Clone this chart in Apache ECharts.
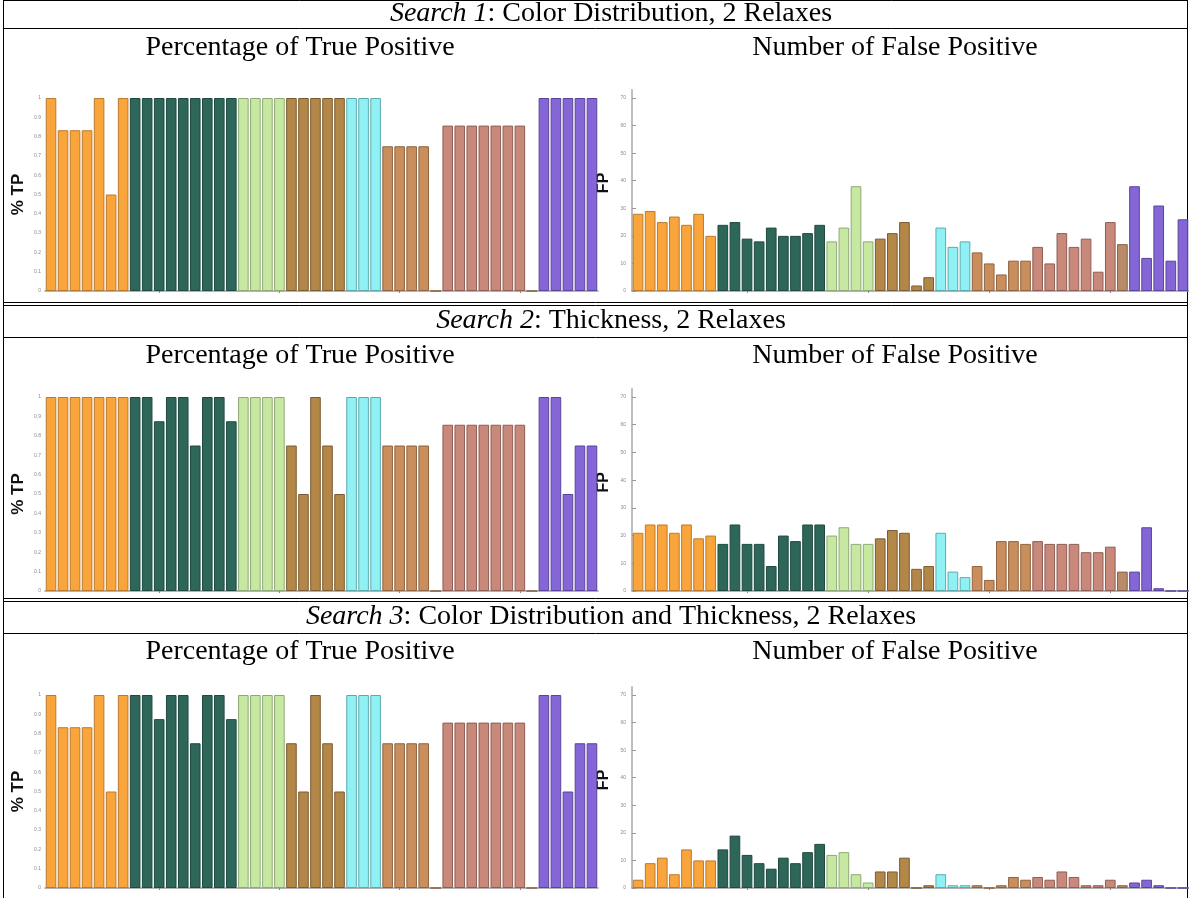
<!DOCTYPE html>
<html>
<head>
<meta charset="utf-8">
<title>Search results: true / false positives</title>
<script src="https://cdn.jsdelivr.net/npm/echarts@6/dist/echarts.min.js"></script>
<style>
  html, body { margin: 0; padding: 0; background: #fff; }
  #chart { width: 1189px; height: 898px; }
</style>
</head>
<body>
<div id="chart"></div>
<script>
// ---- data -------------------------------------------------------------
const CATEGORIES = ['1','2','3','4','5','6','7','8','9','10','11','12','13','14','15','16',
  '17','18','19','20','21','22','23','24','25','26','27','28','29','30','31','32','33','34',
  '35','36','37','38','39','40','41','42','43','44','45','46'];

// bars per colour group, left to right
const GROUP_SIZES = [7, 9, 4, 5, 3, 4, 1, 7, 1, 5];

const TP_TICKS = [0, 0.1, 0.2, 0.3, 0.4, 0.5, 0.6, 0.7, 0.8, 0.9, 1];
const FP_TICKS = [0, 10, 20, 30, 40, 50, 60, 70];

const SEARCH_TITLES = ['Search 1', 'Search 2', 'Search 3'];
const SEARCH_SUBTITLES = [': Color Distribution, 2 Relaxes', ': Thickness, 2 Relaxes',
  ': Color Distribution and Thickness, 2 Relaxes'];

// fraction of true positives per query
const TP_SEARCH1 = [1, 0.833, 0.833, 0.833, 1, 0.5, 1,
  1, 1, 1, 1, 1, 1, 1, 1, 1,
  1, 1, 1, 1,
  1, 1, 1, 1, 1,
  1, 1, 1,
  0.75, 0.75, 0.75, 0.75,
  0,
  0.857, 0.857, 0.857, 0.857, 0.857, 0.857, 0.857,
  0,
  1, 1, 1, 1, 1];
const TP_SEARCH2 = [1, 1, 1, 1, 1, 1, 1,
  1, 1, 0.875, 1, 1, 0.75, 1, 1, 0.875,
  1, 1, 1, 1,
  0.75, 0.5, 1, 0.75, 0.5,
  1, 1, 1,
  0.75, 0.75, 0.75, 0.75,
  0,
  0.857, 0.857, 0.857, 0.857, 0.857, 0.857, 0.857,
  0,
  1, 1, 0.5, 0.75, 0.75];
const TP_SEARCH3 = [1, 0.833, 0.833, 0.833, 1, 0.5, 1,
  1, 1, 0.875, 1, 1, 0.75, 1, 1, 0.875,
  1, 1, 1, 1,
  0.75, 0.5, 1, 0.75, 0.5,
  1, 1, 1,
  0.75, 0.75, 0.75, 0.75,
  0,
  0.857, 0.857, 0.857, 0.857, 0.857, 0.857, 0.857,
  0,
  1, 1, 0.5, 0.75, 0.75];

// number of false positives per query
const FP_SEARCH1 = [28, 29, 25, 27, 24, 28, 20,
  24, 25, 19, 18, 23, 20, 20, 21, 24,
  18, 23, 38, 18,
  19, 21, 25, 2, 5,
  23, 16, 18,
  14, 10, 6, 11, 11, 16, 10, 21, 16, 19, 7, 25, 17,
  38, 12, 31, 11, 26];
const FP_SEARCH2 = [21, 24, 24, 21, 24, 19, 20,
  17, 24, 17, 17, 9, 20, 18, 24, 24,
  20, 23, 17, 17,
  19, 22, 21, 8, 9,
  21, 7, 5,
  9, 4, 18, 18, 17, 18, 17, 17, 17, 14, 14, 16, 7,
  7, 23, 1, 0, 0];
const FP_SEARCH3 = [3, 9, 11, 5, 14, 10, 10,
  14, 19, 12, 9, 7, 11, 9, 13, 16,
  12, 13, 5, 2,
  6, 6, 11, 0, 1,
  5, 1, 1,
  1, 0, 1, 4, 3, 4, 3, 6, 4, 1, 1, 3, 1,
  2, 3, 1, 0, 0];

// ---- styling ----------------------------------------------------------
const GROUP_FILL = ['#F9A53B', '#2E6759', '#C6E8A0', '#B38747', '#90F1F4',
  '#C98E5C', '#C98E5C', '#C9897A', '#B98B68', '#8466D6'];
const GROUP_EDGE = ['#B97A2E', '#1E4A40', '#8FAA76', '#7B5C32', '#5DAAAD',
  '#8E6340', '#8E6340', '#8E5E54', '#85624A', '#5A449B'];

const barColour = [];
GROUP_SIZES.forEach((n, g) => { for (let k = 0; k < n; k++) barColour.push(g); });

function barData(values) {
  return values.map((v, i) => ({
    value: v,
    itemStyle: { color: GROUP_FILL[barColour[i]], borderColor: GROUP_EDGE[barColour[i]] }
  }));
}

// vertical layout of each search block: y of value 0 and of TP=1 / FP=70
const ROWS = [
  { base: 291, top: 98 },
  { base: 591, top: 397 },
  { base: 888, top: 695 }
];
const FP_MAX = 73;

const TP_LEFT = 45, TP_WIDTH = 553;
const FP_LEFT = 632, FP_WIDTH = 557;

const grids = [], xAxes = [], yAxes = [], series = [];
const tpSets = [TP_SEARCH1, TP_SEARCH2, TP_SEARCH3];
const fpSets = [FP_SEARCH1, FP_SEARCH2, FP_SEARCH3];

ROWS.forEach((r, i) => {
  const h = r.base - r.top;
  const fpTop = r.top - h * (FP_MAX - 70) / 70;
  grids.push({ left: TP_LEFT, top: r.top, width: TP_WIDTH, height: h });
  grids.push({ left: FP_LEFT, top: fpTop, width: FP_WIDTH, height: r.base - fpTop });

  [0, 1].forEach(k => {
    xAxes.push({
      type: 'category', gridIndex: 2 * i + k, data: CATEGORIES,
      axisLine: { show: true, lineStyle: { color: '#9a9a9a', width: 1.5 } },
      axisTick: { show: true, alignWithLabel: true, length: 2,
        interval: idx => idx % 10 === 9, lineStyle: { color: '#888' } },
      axisLabel: { show: false }
    });
  });

  yAxes.push({
    type: 'value', gridIndex: 2 * i, min: 0, max: 1, interval: 0.1,
    axisLine: { show: false }, axisTick: { show: false }, splitLine: { show: false },
    axisLabel: { fontSize: 5, color: '#8a8a8a', margin: 4, customValues: TP_TICKS,
      formatter: v => String(+v.toFixed(1)) }
  });
  yAxes.push({
    type: 'value', gridIndex: 2 * i + 1, min: 0, max: FP_MAX,
    axisLine: { show: true, lineStyle: { color: '#a8a8a8', width: 1.5 } },
    axisTick: { show: true, inside: true, length: 4, customValues: FP_TICKS,
      lineStyle: { color: '#999' } },
    splitLine: { show: false },
    axisLabel: { fontSize: 5, color: '#8a8a8a', margin: 6, customValues: FP_TICKS,
      formatter: v => (FP_TICKS.indexOf(v) >= 0 ? String(v) : '') }
  });

  series.push({
    type: 'bar', xAxisIndex: 2 * i, yAxisIndex: 2 * i, data: barData(tpSets[i]),
    barCategoryGap: '12%', itemStyle: { borderWidth: 1 }, silent: true, animation: false
  });
  series.push({
    type: 'bar', xAxisIndex: 2 * i + 1, yAxisIndex: 2 * i + 1, data: barData(fpSets[i]),
    barCategoryGap: '12%', itemStyle: { borderWidth: 1 }, silent: true, animation: false
  });
});

// ---- table frame and captions -----------------------------------------
const SERIF = '"Liberation Serif", "DejaVu Serif", serif';
const SANS = '"Liberation Sans", Arial, sans-serif';
const CAPTION_SIZE = 28;
const graphics = [];

function hline(y) {
  graphics.push({ type: 'line', shape: { x1: 3, y1: y, x2: 1188, y2: y },
    style: { stroke: '#000', lineWidth: 1 }, silent: true });
}
function vline(x) {
  graphics.push({ type: 'line', shape: { x1: x, y1: 0, x2: x, y2: 898 },
    style: { stroke: '#000', lineWidth: 1 }, silent: true });
}
[0.5, 28.5, 302.5, 305.5, 337.5, 598.5, 601.5, 633.5].forEach(hline);
[3.5, 1187.5].forEach(vline);

const TITLE_Y = [14, 321, 617];
const SUB_Y = [48, 356, 652];

ROWS.forEach((r, i) => {
  graphics.push({
    type: 'text', x: 611, y: TITLE_Y[i], silent: true,
    style: {
      text: '{i|' + SEARCH_TITLES[i] + '}{n|' + SEARCH_SUBTITLES[i] + '}',
      align: 'center', verticalAlign: 'middle',
      rich: {
        i: { fontFamily: SERIF, fontSize: CAPTION_SIZE, fontStyle: 'italic', fill: '#000' },
        n: { fontFamily: SERIF, fontSize: CAPTION_SIZE, fill: '#000' }
      }
    }
  });
  graphics.push({
    type: 'text', x: 300, y: SUB_Y[i], silent: true,
    style: { text: 'Percentage of True Positive', fontFamily: SERIF, fontSize: CAPTION_SIZE,
      fill: '#000', align: 'center', verticalAlign: 'middle' }
  });
  graphics.push({
    type: 'text', x: 895, y: SUB_Y[i], silent: true,
    style: { text: 'Number of False Positive', fontFamily: SERIF, fontSize: CAPTION_SIZE,
      fill: '#000', align: 'center', verticalAlign: 'middle' }
  });
  graphics.push({
    type: 'text', x: 18, y: r.top + (r.base - r.top) * 0.5, rotation: Math.PI / 2,
    silent: true,
    style: { text: '% TP', fontFamily: SANS, fontSize: 17, fontWeight: 'bold',
      fill: '#111', align: 'center', verticalAlign: 'middle' }
  });
  graphics.push({
    type: 'text', x: 604, y: r.top + (r.base - r.top) * 0.44, rotation: Math.PI / 2,
    silent: true,
    style: { text: 'FP', fontFamily: SANS, fontSize: 16, fontWeight: 'bold',
      fill: '#111', align: 'center', verticalAlign: 'middle' }
  });
});

const chart = echarts.init(document.getElementById('chart'), null, { renderer: 'canvas' });
chart.setOption({
  backgroundColor: '#fff',
  animation: false,
  grid: grids,
  xAxis: xAxes,
  yAxis: yAxes,
  series: series,
  graphic: graphics
});
</script>
</body>
</html>
